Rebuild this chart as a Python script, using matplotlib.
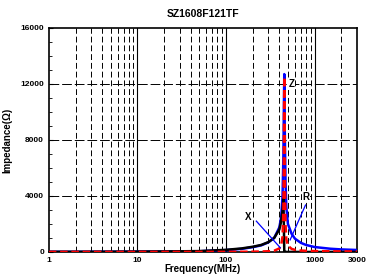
import matplotlib.pyplot as plt
from matplotlib.ticker import FixedLocator, NullFormatter, MultipleLocator

plt.rcParams['font.family'] = ['Liberation Sans', 'DejaVu Sans']
plt.rcParams['font.weight'] = 'bold'

freq = [1, 2, 5, 10, 20, 50, 100, 150, 200, 250, 300, 350, 400, 420, 435, 445, 450, 455, 460, 470, 480, 500, 550, 600, 700, 800, 1000, 1500, 2000, 3000]
z_vals = [8, 10, 15, 22, 30, 50, 130, 220, 340, 470, 680, 1000, 1750, 2500, 4000, 7000, 10000, 12700, 9000, 5000, 3200, 2000, 1300, 950, 650, 500, 350, 230, 180, 140]
r_vals = [0, 0, 0, 0, 0, 2, 5, 10, 20, 30, 50, 90, 250, 500, 1100, 3000, 7000, 12500, 6000, 2000, 900, 450, 220, 150, 100, 80, 60, 45, 40, 35]
x_vals = [10, 12, 18, 25, 35, 60, 150, 250, 370, 500, 700, 1000, 1600, 2200, 3000, 3800, 2000, 0, 0, 0, 0, 0, 0, 0, 0, 0, 0, 0, 0, 0]

xticks = [1, 10, 100, 1000, 3000]
yticks = [0, 4000, 8000, 12000, 16000]
minor_x = [2, 3, 4, 5, 6, 7, 8, 9, 20, 30, 40, 50, 60, 70, 80, 90, 200, 300, 400, 500, 600, 700, 800, 900, 2000]

fig = plt.figure(figsize=(3.76, 2.79), dpi=100)
ax = fig.add_axes([0.130, 0.097, 0.819, 0.803])

ax.set_xscale('log')
ax.set_xlim(1, 3000)
ax.set_ylim(0, 16000)

ax.xaxis.set_major_locator(FixedLocator(xticks))
ax.set_xticklabels([str(t) for t in xticks])
ax.xaxis.set_minor_locator(FixedLocator(minor_x))
ax.xaxis.set_minor_formatter(NullFormatter())
ax.yaxis.set_major_locator(FixedLocator(yticks))
ax.yaxis.set_minor_locator(MultipleLocator(1000))

for f in [10, 100, 1000]:
    ax.axvline(f, color='black', lw=0.8, zorder=1)
for f in minor_x:
    ax.axvline(f, color='black', lw=0.7, ls=(0, (6, 3)), zorder=1)
for v in [4000, 8000, 12000]:
    ax.axhline(v, color='black', lw=0.7, ls=(0, (10, 3)), zorder=1)

ax.plot(freq, z_vals, color='blue', lw=1.8, zorder=3)
ax.plot(freq, x_vals, color='black', lw=1.8, zorder=4)
ax.plot(freq, r_vals, color='red', lw=1.8, ls=(0, (3, 1.5)), zorder=5)

box = dict(facecolor='white', edgecolor='none', pad=0.5)
ax.text(550, 12000, 'Z', fontsize=7, ha='center', va='center', bbox=box, zorder=7)
ax.text(800, 3950, 'R', fontsize=7, ha='center', va='center', bbox=box, zorder=7)
ax.text(180, 2500, 'X', fontsize=7, ha='center', va='center', bbox=box, zorder=7)
ax.plot([220, 410], [2200, 300], color='blue', lw=0.9, zorder=6)
ax.plot([790, 530], [3350, 860], color='blue', lw=0.9, zorder=6)

ax.set_title('SZ1608F121TF', fontsize=7.5, fontweight='bold', pad=8)
ax.set_xlabel('Frequency(MHz)', fontsize=7, fontweight='bold', labelpad=0)
ax.set_ylabel('Impedance(Ω)', fontsize=7, fontweight='bold', labelpad=6)
ax.tick_params(axis='both', which='major', labelsize=6, direction='in', length=3, width=0.8)
ax.tick_params(axis='both', which='minor', direction='in', length=2, width=0.6)
ax.tick_params(axis='x', which='both', length=0, pad=4)
for s in ax.spines.values():
    s.set_linewidth(1.2)

fig.savefig('out.png', dpi=100)
